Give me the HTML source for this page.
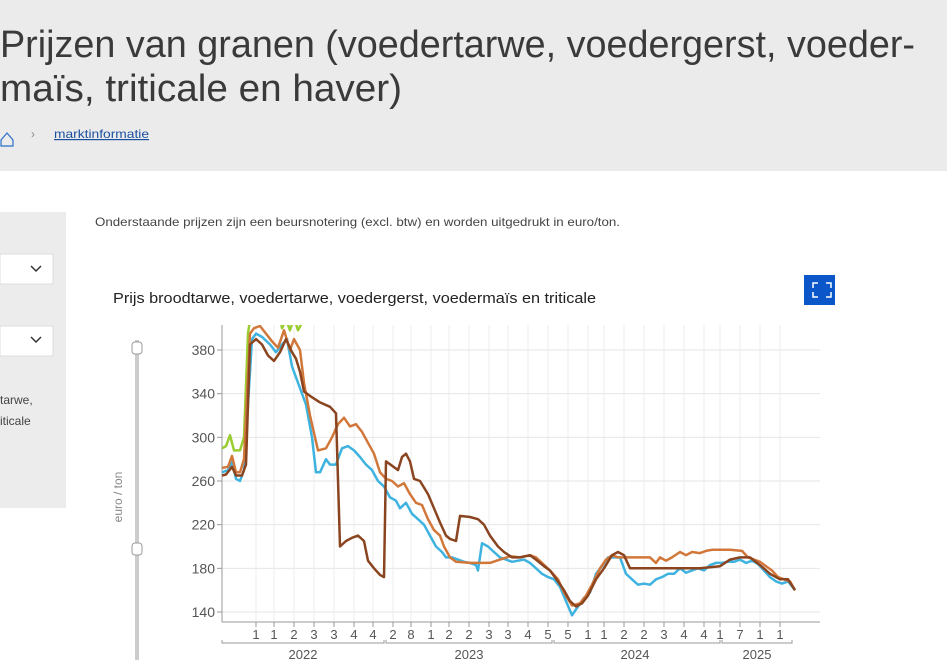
<!DOCTYPE html>
<html><head><meta charset="utf-8"><style>
body{margin:0;width:947px;height:669px;overflow:hidden;background:#fff;font-family:"Liberation Sans",sans-serif}
svg{display:block}
</style></head><body>
<svg id="s" width="947" height="669" xmlns="http://www.w3.org/2000/svg" font-family="Liberation Sans, sans-serif">
<rect x="0" y="0" width="947" height="171" fill="#ebebeb"/>
<text x="0" y="57" font-size="38" fill="#3a3a3a" textLength="915" lengthAdjust="spacingAndGlyphs">Prijzen van granen (voedertarwe, voedergerst, voeder-</text>
<text x="0" y="101" font-size="38" fill="#3a3a3a" textLength="402" lengthAdjust="spacingAndGlyphs">maïs, triticale en haver)</text>
<path d="M1 140 L7 133 L13 140 L13 146 L1 146 Z" fill="none" stroke="#2a6fc9" stroke-width="1.2"/>
<text x="31" y="138" font-size="12" fill="#888">›</text>
<text x="54" y="138" font-size="12" fill="#1a4fa0" text-decoration="underline" textLength="95" lengthAdjust="spacingAndGlyphs">marktinformatie</text>
<rect x="0" y="212" width="66" height="296" fill="#ececec"/>
<rect x="0" y="254" width="53" height="30" fill="#fff" stroke="#ddd"/>
<path d="M31 266 l5 5 l5 -5" fill="none" stroke="#333" stroke-width="1.5"/>
<rect x="0" y="326" width="53" height="30" fill="#fff" stroke="#ddd"/>
<path d="M31 337 l5 5 l5 -5" fill="none" stroke="#333" stroke-width="1.5"/>
<text x="0" y="404" font-size="12" fill="#444">tarwe,</text>
<text x="0" y="425" font-size="12" fill="#444">iticale</text>
<text x="95" y="226" font-size="12" fill="#444" textLength="525" lengthAdjust="spacingAndGlyphs">Onderstaande prijzen zijn een beursnotering (excl. btw) en worden uitgedrukt in euro/ton.</text>
<text x="113" y="303" font-size="15" fill="#222" textLength="483" lengthAdjust="spacingAndGlyphs">Prijs broodtarwe, voedertarwe, voedergerst, voedermaïs en triticale</text>
<rect x="804" y="275" width="31" height="30" fill="#0b57c9"/>
<path d="M813 288 v-5 h5 M826 283 h5 v5 M813 292 v5 h5 M826 297 h5 v-5" fill="none" stroke="#fff" stroke-width="1.5"/>
<rect x="135" y="340" width="4" height="320" fill="#ccc"/>
<rect x="132" y="342" width="10" height="12" rx="3" fill="#fff" stroke="#999"/>
<rect x="132" y="543" width="10" height="12" rx="3" fill="#fff" stroke="#999"/>
<text transform="translate(122,497) rotate(-90)" font-size="12" fill="#888" text-anchor="middle">euro / ton</text>
<g id="grid"></g>
<g id="lines"></g>
</svg>
<script>
const NS="http://www.w3.org/2000/svg",s=document.getElementById('s');
function el(t,a,p,txt){const e=document.createElementNS(NS,t);for(const k in a)e.setAttribute(k,a[k]);if(txt!=null)e.textContent=txt;(p||s).appendChild(e);return e;}
const g=document.getElementById('grid'),L=document.getElementById('lines');
const Y=v=>350+(380-v)*1.0917;
const X0=222,X1=820,YT=325,YB=622;
[140,180,220,260,300,340,380].forEach(v=>{el('line',{x1:X0,x2:X1,y1:Y(v),y2:Y(v),stroke:'#e6e6e6'},g);el('line',{x1:X0-5,x2:X0,y1:Y(v),y2:Y(v),stroke:'#999'},g);el('text',{x:X0-7,y:Y(v)+5,'font-size':14,fill:'#555','text-anchor':'end'},g,v);});
const tx=[256,274,294,314,334,354,373,393,411,431,449,469,489,508,528,548,568,588,604,624,644,664,684,704,720,740,760,780];
const tl="1 1 2 3 3 4 4 2 8 1 2 2 3 3 4 5 5 1 1 2 2 3 4 4 1 7 1 1".split(' ');
tx.forEach((x,i)=>{el('line',{x1:x,x2:x,y1:YT,y2:YB,stroke:'#ececec'},g);el('line',{x1:x,x2:x,y1:YB,y2:YB+5,stroke:'#999'},g);el('text',{x:x,y:639,'font-size':13,fill:'#555','text-anchor':'middle'},g,tl[i]);});
el('line',{x1:X0,x2:X0,y1:YT,y2:YB,stroke:'#999'},g);
el('line',{x1:X0,x2:X1,y1:YB,y2:YB,stroke:'#999'},g);
[[222,384,303,'2022'],[386,552,469,'2023'],[554,720,635,'2024'],[722,792,757,'2025']].forEach(a=>{el('path',{d:`M${a[0]} 640 v3 H${a[1]} v-3`,fill:'none',stroke:'#999'},g);el('text',{x:a[2],y:659,'font-size':13,fill:'#555','text-anchor':'middle'},g,a[3]);});
el('clipPath',{id:'c'},s);el('rect',{x:X0,y:YT,width:X1-X0,height:YB-YT+20},s.lastChild);
function line(str,col){const p=str.trim().split(/\s+/).map(t=>{const[a,b]=t.split(':');return a+','+Y(+b).toFixed(1)}).join(' ');el('polyline',{points:p,fill:'none',stroke:col,'stroke-width':2.5,'stroke-linejoin':'round','clip-path':'url(#c)'},L);}
line("222:290 226:292 230:302 234:288 240:288 244:300 248:395 252:420 278:420 282:400 286:408 290:398 294:410 298:398 302:405","#9acd32");
line("222:268 228:270 232:278 236:262 240:260 244:270 248:330 252:390 256:395 262:392 270:385 276:378 282:385 287:390 292:365 296:355 300:345 306:330 312:300 316:268 320:268 326:280 330:275 336:275 342:290 348:292 354:288 360:282 366:275 372:270 378:260 384:255 390:245 396:242 400:235 406:240 412:230 418:225 424:220 430:210 436:200 442:195 446:190 452:190 458:188 464:186 470:185 476:183 478:178 482:203 488:200 494:195 500:190 506:188 512:186 518:187 524:188 530:185 536:180 542:175 548:172 554:170 560:163 566:150 572:137 578:145 584:153 590:158 596:175 602:182 608:190 614:190 620:190 626:175 632:170 638:165 644:166 650:165 656:170 662:172 668:175 674:175 680:180 686:176 692:178 698:180 704:178 710:183 716:185 722:185 728:186 734:186 740:188 746:185 752:187 758:184 764:178 770:172 776:168 782:166 788:168 795:160","#3fb3e0");
line("222:272 228:273 232:283 236:268 240:268 244:280 250:395 254:400 260:402 266:395 272:388 278:382 284:398 290:380 294:390 300:380 304:350 310:320 318:288 326:290 332:300 338:312 344:318 350:310 356:312 362:305 368:295 374:285 380:268 386:262 392:260 398:255 404:258 410:248 416:240 422:238 428:225 434:215 440:210 444:200 450:190 456:186 470:185 490:185 500:188 510:191 520:190 530:192 536:190 542:185 550:178 558:170 564:158 572:146 580:148 586:155 592:165 600:180 606:188 612:192 618:190 630:190 650:190 656:185 660:190 666:187 672:190 680:195 686:192 692:195 700:194 706:196 712:197 730:197 742:196 748:190 754:188 760:186 766:182 772:178 778:172 784:170 790:168 795:160","#d2773a");
line("222:265 226:266 232:273 236:265 242:265 246:275 250:385 256:390 262:385 268:375 274:370 280:378 286:390 292:378 296:372 300:360 304:342 310:338 320:332 330:328 336:322 340:200 346:205 352:208 358:210 364:205 368:187 374:180 380:174 384:172 386:278 392:274 398:270 402:282 406:285 410:278 414:262 420:260 428:248 434:235 440:222 446:210 450:207 456:205 460:228 470:227 478:225 484:220 490:210 498:200 504:195 512:190 520:190 530:192 536:188 544:182 550:178 558:168 564:160 570:150 576:145 582:148 588:155 596:170 604:180 612:192 618:195 624:192 630:180 640:180 660:180 680:180 700:180 720:182 730:188 740:190 750:190 760:183 770:175 780:170 788:170 795:160","#8a4520");
</script>
</body></html>
